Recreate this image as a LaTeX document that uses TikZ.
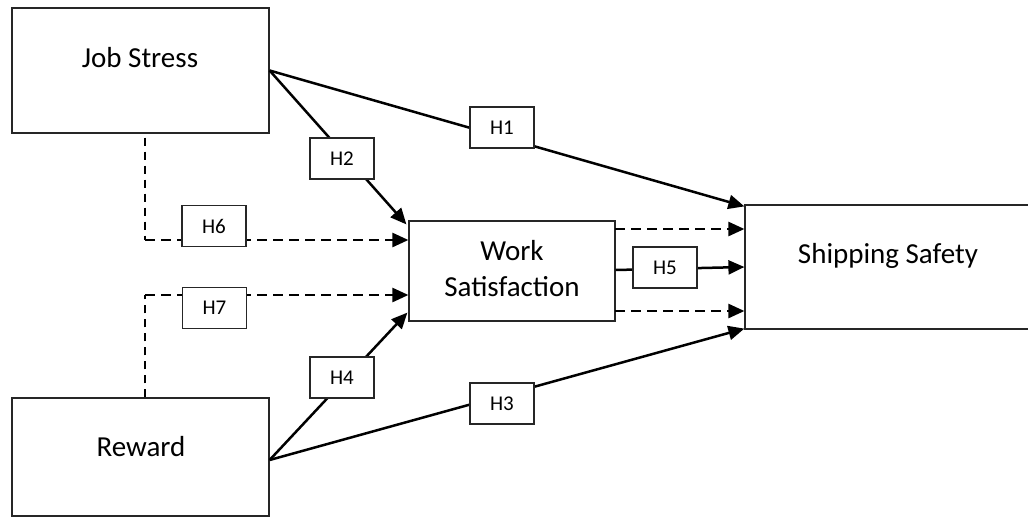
\documentclass[tikz,border=0pt]{standalone}
\usepackage{fontspec}
\setmainfont{Carlito}
\usepackage{tikz}
\usetikzlibrary{arrows.meta,calc}

\tikzset{
  varbox/.style={draw=black!85, line width=1.2pt, inner sep=0pt},
  vartext/.style={font=\fontsize{29}{36}\selectfont, align=center},
  hbox/.style={draw=black!85, fill=white, line width=1.2pt, inner sep=0pt,
    minimum width=64pt, minimum height=41pt, font=\fontsize{21}{24}\selectfont},
  link/.style={line width=2.5pt, -{Triangle[length=16pt,width=14pt]}},
  dlink/.style={link, dash pattern=on 10pt off 6pt},
  dstem/.style={line width=1.5pt, dash pattern=on 8pt off 6pt}
}

\begin{document}
\begin{tikzpicture}[x=1pt,y=-1pt]
  \path[use as bounding box, clip] (0,0) rectangle (1028,520);

  % variables
  \node[varbox, minimum width=257pt, minimum height=125pt] (js) at (140.5,70.5) {};
  \node[varbox, minimum width=257pt, minimum height=118pt] (rw) at (140.5,457) {};
  \node[varbox, minimum width=206pt, minimum height=100pt] (ws) at (512,271) {};
  \node[varbox, minimum width=300pt, minimum height=124pt] (ship) at (895,267) {};

  \node[vartext] (jsT) at (140,58) {Job Stress};
  \node[vartext] (rwT) at (141,447) {Reward};
  \node[vartext] (wsT) at (512,269) {Work\\Satisfaction};
  \node[vartext] (shipT) at (888,256) {Shipping Safety};

  \coordinate (c6) at (145,240);
  \coordinate (c7) at (145,295);
  \coordinate (up) at (615,229);
  \coordinate (lo) at (615,311);

  % direct paths
  \draw[link] (js.east) -- ([yshift=-2pt]ship.north west);
  \draw[link] (js.east) -- ([yshift=-4pt,xshift=-2pt]ws.north west);
  \draw[link] ([yshift=-3pt]rw.east) -- ([yshift=9pt,xshift=-1pt]ws.south west);
  \draw[link] ([yshift=-3pt]rw.east) -- ([yshift=1pt]ship.south west);
  \draw[link] ([yshift=1pt]ws.east) -- (ship.west);

  % moderation paths
  \draw[dstem] ([yshift=-4pt]c6 |- js.south) -- (c6);
  \draw[dlink] (c6) -- (ws.west |- c6);
  \draw[dstem] (c7 |- rw.north) -- (c7);
  \draw[dlink] (c7) -- (ws.west |- c7);
  \draw[dlink] (up) -- (ship.west |- up);
  \draw[dlink] (lo) -- (ship.west |- lo);

  % hypothesis labels
  \node[hbox] (h1) at (502,127.5) {H1};
  \node[hbox] (h2) at (342,158.5) {H2};
  \node[hbox] (h3) at (502,403.5) {H3};
  \node[hbox] (h4) at (342,377.5) {H4};
  \node[hbox] (h5) at (665,267.5) {H5};
  \node[hbox] (h6) at (214,226) {H6};
  \node[hbox] (h7) at (214.5,308) {H7};
\end{tikzpicture}
\end{document}
